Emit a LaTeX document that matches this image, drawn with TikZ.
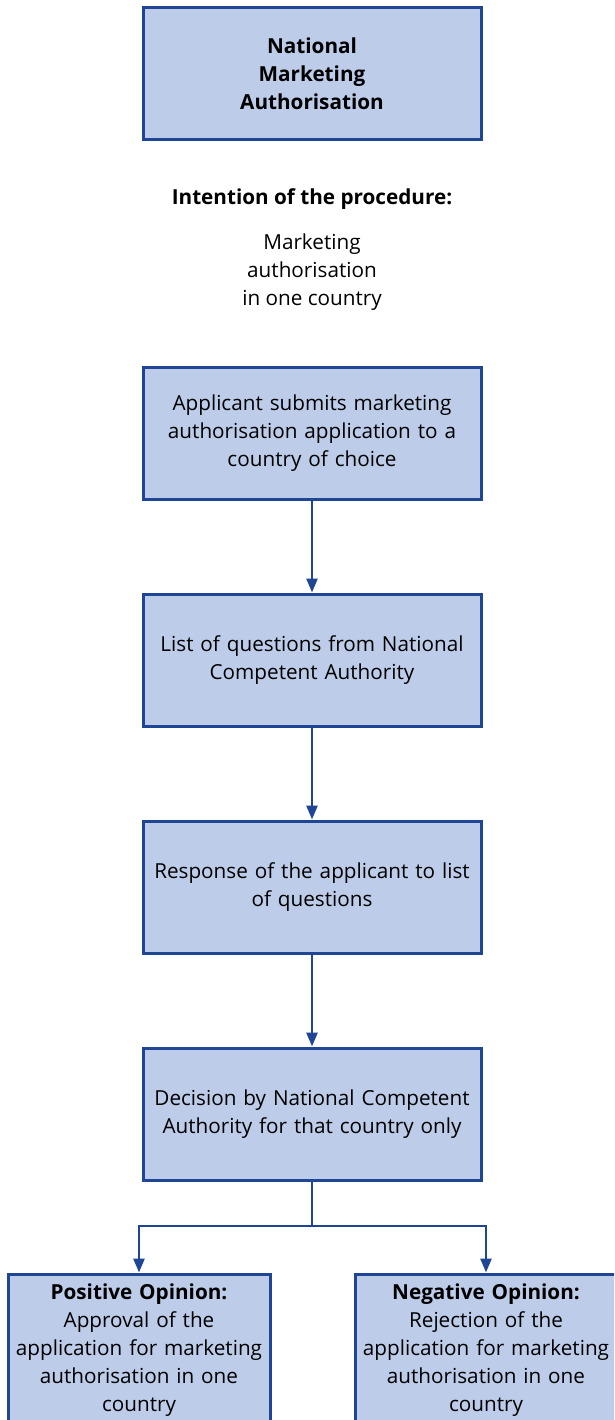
\documentclass[tikz,border=0pt]{standalone}
\usepackage{fontspec}
\setmainfont{Open Sans}
\usetikzlibrary{arrows.meta}
\definecolor{boxfill}{HTML}{BCCCE9}
\definecolor{boxline}{HTML}{1F4695}
\begin{document}
\begin{tikzpicture}[x=1pt,y=-1pt,
  every node/.style={font=\fontsize{20.7}{28}\selectfont, align=center},
  flowbox/.style={draw=boxline, line width=3pt, fill=boxfill, minimum width=338pt, minimum height=132pt, text width=330pt, inner sep=0pt},
  endbox/.style={draw=boxline, line width=3pt, fill=boxfill, minimum width=262pt, minimum height=152pt, text width=258pt, inner sep=0pt},
  conn/.style={draw=boxline, line width=2.6pt},
  arr/.style={conn, -{Triangle[length=14pt,width=11pt]}}]
\clip (0,0) rectangle (614,1420);
\fill[white] (0,0) rectangle (614,1420);
\node[flowbox] (b1) at (312,74) {\textbf{National}\\\textbf{Marketing}\\\textbf{Authorisation}};
\node (int) at (312,199) {\textbf{Intention of the procedure:}};
\node (intt) at (312,272) {Marketing\\authorisation\\in one country};
\node[flowbox] (b2) at (312,433) {Applicant submits marketing\\authorisation application to a\\country of choice};
\node[flowbox] (b3) at (312,660) {List of questions from National\\Competent Authority};
\node[flowbox] (b4) at (312,887) {Response of the applicant to list\\of questions};
\node[flowbox] (b5) at (312,1114) {Decision by National Competent\\Authority for that country only};
\node[endbox] (pos) at (139,1350) {\textbf{Positive Opinion:}\\Approval of the\\application for marketing\\authorisation in one\\country};
\node[endbox] (neg) at (486,1350) {\textbf{Negative Opinion:}\\Rejection of the\\application for marketing\\authorisation in one\\country};
\coordinate (split) at (312,1226);
\draw[arr] (b2.south) -- (b3.north);
\draw[arr] (b3.south) -- (b4.north);
\draw[arr] (b4.south) -- (b5.north);
\draw[conn] (b5.south) -- (split);
\draw[arr] (split) -| (pos.north);
\draw[arr] (split) -| (neg.north);
\end{tikzpicture}
\end{document}
